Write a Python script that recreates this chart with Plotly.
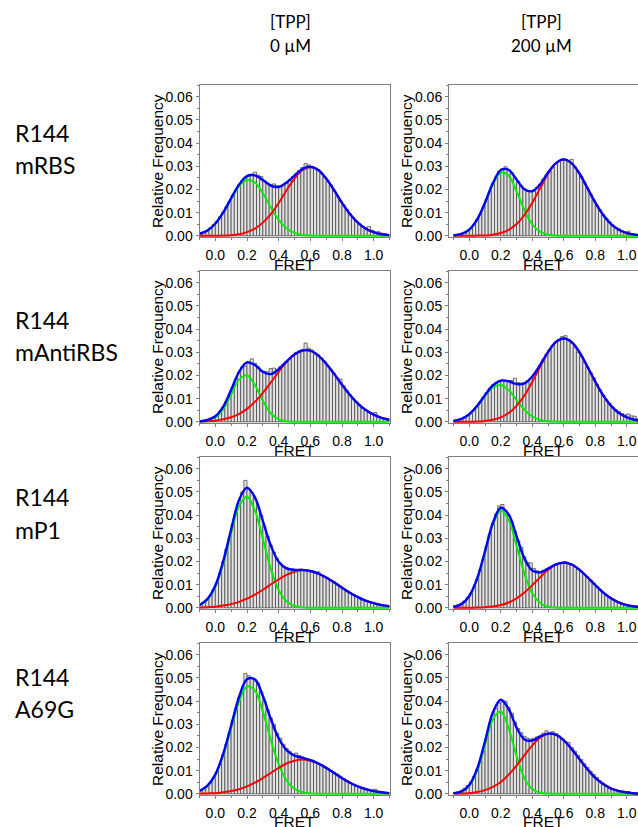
import plotly.graph_objects as go

# ---------------- data ----------------
bin_centers = [-0.09, -0.07, -0.05, -0.03, -0.01, 0.01, 0.03, 0.05, 0.07, 0.09,
               0.11, 0.13, 0.15, 0.17, 0.19, 0.21, 0.23, 0.25, 0.27, 0.29,
               0.31, 0.33, 0.35, 0.37, 0.39, 0.41, 0.43, 0.45, 0.47, 0.49,
               0.51, 0.53, 0.55, 0.57, 0.59, 0.61, 0.63, 0.65, 0.67, 0.69,
               0.71, 0.73, 0.75, 0.77, 0.79, 0.81, 0.83, 0.85, 0.87, 0.89,
               0.91, 0.93, 0.95, 0.97, 0.99, 1.01, 1.03, 1.05, 1.07, 1.09]

fit_x = [-0.10, -0.05, 0.00, 0.05, 0.10, 0.15, 0.20, 0.25, 0.30, 0.35, 0.40, 0.45,
         0.50, 0.55, 0.60, 0.65, 0.70, 0.75, 0.80, 0.85, 0.90, 0.95, 1.00, 1.05, 1.10]

# R144 mRBS, 0 uM
hist_mRBS_0 = [0.0011, 0.0015, 0.0022, 0.0035, 0.0048, 0.0062, 0.0082, 0.0102, 0.0125, 0.0148,
               0.0175, 0.0196, 0.0222, 0.0238, 0.0252, 0.0262, 0.0266, 0.0275, 0.0262, 0.0256,
               0.0238, 0.0228, 0.0222, 0.0224, 0.0216, 0.0214, 0.0220, 0.0228, 0.0243, 0.0255,
               0.0268, 0.0282, 0.0295, 0.0312, 0.0306, 0.0300, 0.0293, 0.0286, 0.0268, 0.0255,
               0.0238, 0.0220, 0.0196, 0.0172, 0.0152, 0.0134, 0.0114, 0.0096, 0.0080, 0.0064,
               0.0052, 0.0041, 0.0034, 0.0040, 0.0024, 0.0016, 0.0018, 0.0012, 0.0010, 0.0006]
low_mRBS_0 = [0.0009, 0.0023, 0.0053, 0.0100, 0.0160, 0.0214, 0.0242, 0.0230, 0.0184, 0.0123,
              0.0069, 0.0033, 0.0013, 0.0004, 0.0001, 0, 0, 0, 0, 0, 0, 0, 0, 0, 0]
high_mRBS_0 = [0, 0, 0, 0.0001, 0.0003, 0.0007, 0.0016, 0.0031, 0.0057, 0.0094, 0.0142, 0.0197,
               0.0247, 0.0284, 0.0297, 0.0284, 0.0247, 0.0197, 0.0142, 0.0094, 0.0057, 0.0031,
               0.0016, 0.0007, 0.0003]

# R144 mRBS, 200 uM
hist_mRBS_200 = [0.0004, 0.0006, 0.0009, 0.0014, 0.0022, 0.0034, 0.0050, 0.0070, 0.0092, 0.0124,
                 0.0158, 0.0192, 0.0226, 0.0254, 0.0278, 0.0290, 0.0298, 0.0284, 0.0272, 0.0252,
                 0.0236, 0.0218, 0.0204, 0.0194, 0.0192, 0.0198, 0.0210, 0.0224, 0.0245, 0.0262,
                 0.0280, 0.0296, 0.0312, 0.0322, 0.0332, 0.0328, 0.0325, 0.0330, 0.0298, 0.0278,
                 0.0258, 0.0232, 0.0206, 0.0180, 0.0156, 0.0132, 0.0112, 0.0092, 0.0076, 0.0060,
                 0.0046, 0.0036, 0.0030, 0.0022, 0.0016, 0.0020, 0.0010, 0.0007, 0.0004, 0.0003]
low_mRBS_200 = [0.0002, 0.0008, 0.0027, 0.0070, 0.0142, 0.0223, 0.0272, 0.0259, 0.0192, 0.0111,
                0.0050, 0.0017, 0.0005, 0.0001, 0, 0, 0, 0, 0, 0, 0, 0, 0, 0, 0]
high_mRBS_200 = [0, 0, 0, 0.0001, 0.0002, 0.0005, 0.0012, 0.0026, 0.0051, 0.0090, 0.0143, 0.0206,
                 0.0268, 0.0313, 0.0330, 0.0313, 0.0268, 0.0206, 0.0143, 0.0090, 0.0051, 0.0026,
                 0.0012, 0.0005, 0.0002]

# R144 mAntiRBS, 0 uM
hist_mAnti_0 = [0.0004, 0.0006, 0.0009, 0.0014, 0.0020, 0.0030, 0.0044, 0.0064, 0.0088, 0.0118,
                0.0150, 0.0184, 0.0212, 0.0238, 0.0240, 0.0258, 0.0272, 0.0252, 0.0238, 0.0222,
                0.0218, 0.0216, 0.0230, 0.0232, 0.0226, 0.0238, 0.0248, 0.0256, 0.0270, 0.0286,
                0.0300, 0.0306, 0.0312, 0.0340, 0.0318, 0.0310, 0.0296, 0.0290, 0.0276, 0.0262,
                0.0242, 0.0226, 0.0210, 0.0190, 0.0184, 0.0156, 0.0136, 0.0118, 0.0100, 0.0088,
                0.0074, 0.0060, 0.0050, 0.0040, 0.0036, 0.0040, 0.0022, 0.0016, 0.0012, 0.0010]
low_mAnti_0 = [0.0001, 0.0005, 0.0019, 0.0055, 0.0118, 0.0182, 0.0201, 0.0159, 0.0091, 0.0037,
               0.0011, 0.0002, 0, 0, 0, 0, 0, 0, 0, 0, 0, 0, 0, 0, 0]
high_mAnti_0 = [0.0001, 0.0003, 0.0005, 0.0011, 0.0020, 0.0034, 0.0056, 0.0086, 0.0125, 0.0169,
                0.0216, 0.0259, 0.0291, 0.0308, 0.0307, 0.0286, 0.0251, 0.0207, 0.0160, 0.0116,
                0.0079, 0.0051, 0.0031, 0.0017, 0.0009]

# R144 mAntiRBS, 200 uM
hist_mAnti_200 = [0.0006, 0.0009, 0.0013, 0.0020, 0.0028, 0.0038, 0.0050, 0.0068, 0.0086, 0.0106,
                  0.0126, 0.0144, 0.0160, 0.0170, 0.0178, 0.0180, 0.0178, 0.0176, 0.0178, 0.0188,
                  0.0170, 0.0166, 0.0170, 0.0178, 0.0188, 0.0204, 0.0222, 0.0244, 0.0268, 0.0292,
                  0.0312, 0.0330, 0.0346, 0.0356, 0.0368, 0.0372, 0.0356, 0.0340, 0.0320, 0.0300,
                  0.0280, 0.0256, 0.0236, 0.0212, 0.0190, 0.0162, 0.0138, 0.0116, 0.0096, 0.0080,
                  0.0064, 0.0052, 0.0044, 0.0036, 0.0030, 0.0034, 0.0026, 0.0024, 0.0014, 0.0010]
low_mAnti_200 = [0.0004, 0.0013, 0.0033, 0.0068, 0.0112, 0.0149, 0.0159, 0.0137, 0.0094, 0.0052,
                 0.0023, 0.0008, 0.0002, 0.0001, 0, 0, 0, 0, 0, 0, 0, 0, 0, 0, 0]
high_mAnti_200 = [0, 0, 0, 0.0001, 0.0004, 0.0009, 0.0019, 0.0038, 0.0069, 0.0114, 0.0173, 0.0238,
                  0.0300, 0.0344, 0.0360, 0.0344, 0.0300, 0.0238, 0.0173, 0.0114, 0.0069, 0.0038,
                  0.0019, 0.0009, 0.0004]

# R144 mP1, 0 uM
hist_mP1_0 = [0.0016, 0.0024, 0.0036, 0.0052, 0.0080, 0.0108, 0.0150, 0.0200, 0.0254, 0.0300,
              0.0362, 0.0410, 0.0450, 0.0500, 0.0550, 0.0510, 0.0498, 0.0470, 0.0430, 0.0400,
              0.0352, 0.0310, 0.0270, 0.0240, 0.0214, 0.0190, 0.0180, 0.0174, 0.0170, 0.0168,
              0.0164, 0.0162, 0.0166, 0.0162, 0.0160, 0.0158, 0.0152, 0.0156, 0.0142, 0.0134,
              0.0128, 0.0120, 0.0112, 0.0102, 0.0094, 0.0084, 0.0074, 0.0066, 0.0058, 0.0050,
              0.0044, 0.0036, 0.0030, 0.0026, 0.0022, 0.0018, 0.0014, 0.0012, 0.0008, 0.0006]
low_mP1_0 = [0.0011, 0.0035, 0.0091, 0.0192, 0.0323, 0.0440, 0.0479, 0.0420, 0.0297, 0.0169,
             0.0076, 0.0028, 0.0008, 0.0002, 0, 0, 0, 0, 0, 0, 0, 0, 0, 0, 0]
high_mP1_0 = [0.0001, 0.0003, 0.0005, 0.0010, 0.0016, 0.0026, 0.0040, 0.0057, 0.0078, 0.0101,
              0.0123, 0.0142, 0.0156, 0.0162, 0.0159, 0.0148, 0.0131, 0.0110, 0.0087, 0.0065,
              0.0046, 0.0031, 0.0020, 0.0012, 0.0007]

# R144 mP1, 200 uM
hist_mP1_200 = [0.0010, 0.0014, 0.0020, 0.0030, 0.0046, 0.0064, 0.0090, 0.0124, 0.0164, 0.0210,
                0.0266, 0.0318, 0.0366, 0.0404, 0.0440, 0.0446, 0.0420, 0.0398, 0.0370, 0.0330,
                0.0290, 0.0262, 0.0220, 0.0196, 0.0194, 0.0170, 0.0160, 0.0156, 0.0162, 0.0168,
                0.0174, 0.0180, 0.0188, 0.0192, 0.0196, 0.0200, 0.0192, 0.0184, 0.0176, 0.0168,
                0.0158, 0.0146, 0.0134, 0.0120, 0.0106, 0.0092, 0.0080, 0.0068, 0.0056, 0.0046,
                0.0036, 0.0030, 0.0024, 0.0018, 0.0014, 0.0010, 0.0008, 0.0006, 0.0004, 0.0003]
low_mP1_200 = [0.0004, 0.0016, 0.0051, 0.0126, 0.0242, 0.0361, 0.0420, 0.0380, 0.0268, 0.0147,
               0.0063, 0.0021, 0.0005, 0.0001, 0, 0, 0, 0, 0, 0, 0, 0, 0, 0, 0]
high_mP1_200 = [0, 0, 0, 0.0001, 0.0003, 0.0006, 0.0012, 0.0023, 0.0041, 0.0066, 0.0098, 0.0132,
                0.0164, 0.0187, 0.0195, 0.0187, 0.0164, 0.0132, 0.0098, 0.0066, 0.0041, 0.0023,
                0.0012, 0.0006, 0.0003]

# R144 A69G, 0 uM
hist_A69G_0 = [0.0016, 0.0022, 0.0030, 0.0046, 0.0068, 0.0094, 0.0126, 0.0168, 0.0214, 0.0264,
               0.0318, 0.0368, 0.0416, 0.0438, 0.0520, 0.0510, 0.0498, 0.0486, 0.0478, 0.0440,
               0.0400, 0.0362, 0.0328, 0.0300, 0.0262, 0.0240, 0.0214, 0.0196, 0.0182, 0.0170,
               0.0176, 0.0166, 0.0160, 0.0154, 0.0150, 0.0146, 0.0140, 0.0132, 0.0126, 0.0118,
               0.0110, 0.0102, 0.0094, 0.0086, 0.0076, 0.0066, 0.0058, 0.0050, 0.0042, 0.0036,
               0.0030, 0.0026, 0.0022, 0.0018, 0.0016, 0.0020, 0.0010, 0.0008, 0.0006, 0.0004]
low_A69G_0 = [0.0011, 0.0033, 0.0081, 0.0167, 0.0283, 0.0398, 0.0463, 0.0446, 0.0355, 0.0234,
              0.0128, 0.0058, 0.0022, 0.0007, 0.0002, 0, 0, 0, 0, 0, 0, 0, 0, 0, 0]
high_A69G_0 = [0.0001, 0.0002, 0.0003, 0.0007, 0.0012, 0.0020, 0.0032, 0.0048, 0.0068, 0.0090,
               0.0112, 0.0131, 0.0143, 0.0148, 0.0143, 0.0131, 0.0112, 0.0090, 0.0068, 0.0048,
               0.0032, 0.0020, 0.0012, 0.0007, 0.0003]

# R144 A69G, 200 uM
hist_A69G_200 = [0.0006, 0.0010, 0.0016, 0.0024, 0.0036, 0.0052, 0.0076, 0.0106, 0.0140, 0.0182,
                 0.0238, 0.0290, 0.0340, 0.0368, 0.0392, 0.0396, 0.0400, 0.0372, 0.0348, 0.0310,
                 0.0282, 0.0264, 0.0248, 0.0240, 0.0236, 0.0240, 0.0246, 0.0250, 0.0262, 0.0272,
                 0.0262, 0.0268, 0.0260, 0.0250, 0.0240, 0.0226, 0.0222, 0.0200, 0.0184, 0.0166,
                 0.0148, 0.0130, 0.0114, 0.0098, 0.0084, 0.0070, 0.0056, 0.0046, 0.0036, 0.0028,
                 0.0022, 0.0016, 0.0012, 0.0010, 0.0008, 0.0010, 0.0004, 0.0003, 0.0002, 0.0002]
low_A69G_200 = [0.0002, 0.0009, 0.0035, 0.0101, 0.0212, 0.0322, 0.0355, 0.0283, 0.0164, 0.0068,
                0.0021, 0.0005, 0.0001, 0, 0, 0, 0, 0, 0, 0, 0, 0, 0, 0, 0]
high_A69G_200 = [0.0001, 0.0001, 0.0003, 0.0008, 0.0016, 0.0030, 0.0051, 0.0083, 0.0122, 0.0167,
                 0.0209, 0.0243, 0.0259, 0.0255, 0.0231, 0.0193, 0.0149, 0.0106, 0.0069, 0.0042,
                 0.0023, 0.0012, 0.0006, 0.0002, 0.0001]

row_labels = [["R144", "mRBS"], ["R144", "mAntiRBS"], ["R144", "mP1"], ["R144", "A69G"]]
col_headers = [["[TPP]", "0 µM"], ["[TPP]", "200 µM"]]
y_ticks = [0.00, 0.01, 0.02, 0.03, 0.04, 0.05, 0.06]
x_ticks = [0.0, 0.2, 0.4, 0.6, 0.8, 1.0]

panels = [
    (hist_mRBS_0, low_mRBS_0, high_mRBS_0),
    (hist_mRBS_200, low_mRBS_200, high_mRBS_200),
    (hist_mAnti_0, low_mAnti_0, high_mAnti_0),
    (hist_mAnti_200, low_mAnti_200, high_mAnti_200),
    (hist_mP1_0, low_mP1_0, high_mP1_0),
    (hist_mP1_200, low_mP1_200, high_mP1_200),
    (hist_A69G_0, low_A69G_0, high_A69G_0),
    (hist_A69G_200, low_A69G_200, high_A69G_200),
]

# ---------------- layout geometry (pixels) ----------------
W, H = 638, 827
col_px = [(199.5, 389.5), (449.0, 638.0)]
col_xrange = [[-0.10, 1.10], [-0.129, 1.071]]
row_px = [(85, 237), (271, 423), (457, 609), (643, 795)]
fret_offset = [27.5, 27.5, 27.5, 26.0]
ytitle_px = [157, 406]
row_label_px = [(133, 165), (320, 352), (497, 530), (677, 709)]
header_px_x = [290, 541]

TICKFONT = dict(family="Liberation Sans, Arial, sans-serif", size=14, color="black")
TITLEFONT = dict(family="Liberation Sans, Arial, sans-serif", size=15.5, color="black")
LABELFONT = dict(family="Lato, Carlito, sans-serif", size=23, color="black")
HEADFONT = dict(family="Lato, Carlito, sans-serif", size=17, color="black")
AXCOL = "#7f7f7f"

fig = go.Figure()
layout = dict(
    width=W, height=H, margin=dict(l=0, r=0, t=0, b=0, pad=0, autoexpand=False),
    paper_bgcolor="white", plot_bgcolor="white",
    showlegend=False, bargap=0, barmode="overlay",
)
annotations = []

for k, (hist, low, high) in enumerate(panels):
    r, c = divmod(k, 2)
    idx = k + 1
    xa = "x" if idx == 1 else f"x{idx}"
    ya = "y" if idx == 1 else f"y{idx}"
    total = [a + b for a, b in zip(low, high)]

    fig.add_trace(go.Bar(
        x=bin_centers, y=hist, width=0.02, xaxis=xa, yaxis=ya,
        marker=dict(color="#e2e2e2", line=dict(color="#3c3c3c", width=0.7)),
        hoverinfo="skip"))
    fig.add_trace(go.Scatter(
        x=fit_x, y=low, mode="lines", xaxis=xa, yaxis=ya,
        line=dict(color="#00ee00", width=2, shape="spline", smoothing=1.0)))
    fig.add_trace(go.Scatter(
        x=fit_x, y=high, mode="lines", xaxis=xa, yaxis=ya,
        line=dict(color="#ff0000", width=2, shape="spline", smoothing=1.0)))
    fig.add_trace(go.Scatter(
        x=fit_x, y=total, mode="lines", xaxis=xa, yaxis=ya,
        line=dict(color="#0000ff", width=2.4, shape="spline", smoothing=1.0)))

    x0, x1 = col_px[c]
    top, bot = row_px[r]
    xkey = "xaxis" if idx == 1 else f"xaxis{idx}"
    ykey = "yaxis" if idx == 1 else f"yaxis{idx}"
    layout[xkey] = dict(
        domain=[x0 / W, x1 / W], anchor=ya, range=col_xrange[c], automargin=False,
        tickvals=x_ticks, ticktext=[f"{v:.1f}" for v in x_ticks],
        ticks="outside", ticklen=3, tickcolor=AXCOL, tickwidth=1, ticklabelstandoff=2,
        minor=dict(dtick=0.1, tick0=0, ticks="outside", ticklen=2, tickcolor=AXCOL),
        showline=True, mirror=True, linecolor=AXCOL, linewidth=1,
        showgrid=False, zeroline=False, tickfont=TICKFONT, fixedrange=True)
    layout[ykey] = dict(
        domain=[1 - bot / H, 1 - top / H], anchor=xa, range=[-0.0005, 0.0651],
        automargin=False,
        tickvals=y_ticks, ticktext=[f"{v:.2f}" for v in y_ticks],
        ticks="outside", ticklen=3, tickcolor=AXCOL, tickwidth=1,
        minor=dict(dtick=0.005, tick0=0, ticks="outside", ticklen=2, tickcolor=AXCOL),
        showline=True, mirror=True, linecolor=AXCOL, linewidth=1,
        showgrid=False, zeroline=False, tickfont=TICKFONT, fixedrange=True)

    # axis titles
    annotations.append(dict(
        text="Relative Frequency", textangle=-90, font=TITLEFONT,
        x=ytitle_px[c] / W, y=1 - (top + bot) / 2 / H, xref="paper", yref="paper",
        xanchor="center", yanchor="middle", showarrow=False))
    annotations.append(dict(
        text="FRET", font=TITLEFONT,
        x=(x0 + x1) / 2 / W, y=1 - (bot + fret_offset[r]) / H, xref="paper", yref="paper",
        xanchor="center", yanchor="middle", showarrow=False))

# column headers
for c, (l1, l2) in enumerate(col_headers):
    annotations.append(dict(text=l1, font=HEADFONT, x=header_px_x[c] / W, y=1 - 22 / H,
                            xref="paper", yref="paper", xanchor="center", yanchor="middle",
                            showarrow=False))
    annotations.append(dict(text=l2, font=HEADFONT, x=header_px_x[c] / W, y=1 - 46 / H,
                            xref="paper", yref="paper", xanchor="center", yanchor="middle",
                            showarrow=False))

# row labels
for r, (l1, l2) in enumerate(row_labels):
    ya1, ya2 = row_label_px[r]
    annotations.append(dict(text=l1, font=LABELFONT, x=13 / W, y=1 - ya1 / H,
                            xref="paper", yref="paper", xanchor="left", yanchor="middle",
                            showarrow=False))
    annotations.append(dict(text=l2, font=LABELFONT, x=13 / W, y=1 - ya2 / H,
                            xref="paper", yref="paper", xanchor="left", yanchor="middle",
                            showarrow=False))

layout["annotations"] = annotations
fig.update_layout(**layout)
fig.write_html(
    "out.html",
    config={"displayModeBar": False, "staticPlot": True},
    post_script="document.body.style.margin='0';document.body.style.overflow='hidden';",
)
